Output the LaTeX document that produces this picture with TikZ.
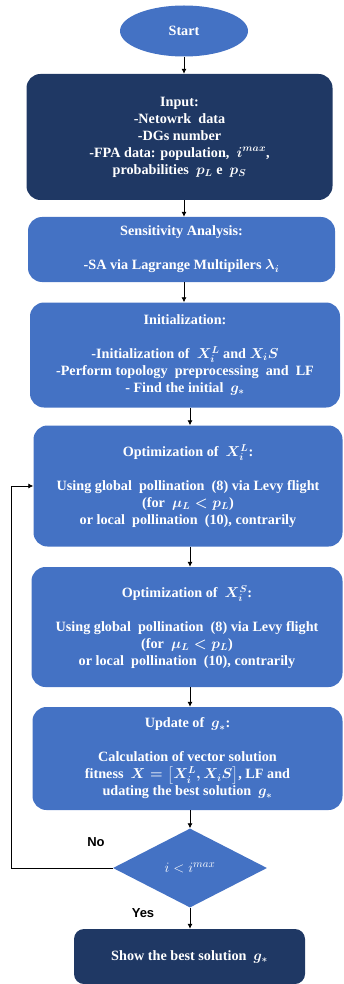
\documentclass[tikz,border=0pt]{standalone}
\usepackage{amsmath}
\usepackage{fontspec}
\setmainfont{Liberation Serif}
\newfontfamily\labelsans{Liberation Sans}
\usetikzlibrary{shapes.geometric,arrows.meta}
\definecolor{navy}{HTML}{1F3864}
\definecolor{midblue}{HTML}{4472C4}
\tikzset{
  box/.style={rectangle, rounded corners=14pt, inner sep=0pt, align=center, text=white,
    font=\fontsize{14.2}{17}\selectfont\bfseries\boldmath},
  darkbox/.style={box, fill=navy},
  lightbox/.style={box, fill=midblue},
  conn/.style={draw=black, line width=0.8pt, -{Latex[length=5pt,width=5pt]}},
  yn/.style={font=\labelsans\fontsize{13}{15}\selectfont\bfseries, text=black}
}
\begin{document}
\begin{tikzpicture}[x=1pt,y=-1pt]
\useasboundingbox (0,0) rectangle (344,984);
\node[ellipse, fill=midblue, minimum width=128pt, minimum height=51pt, inner sep=0pt,
  text=white, font=\fontsize{14.2}{17}\selectfont\bfseries] (start) at (184,31) {Start};
\node[darkbox, minimum width=306pt, minimum height=126pt] (input) at (179.5,137)
  {Input:\\-Netowrk\ \ data\\-DGs number\\-FPA data: population,\ \ $i^{max}$,\\probabilities\ \ $p_L$ e\ \ $p_S$};
\node[lightbox, minimum width=307pt, minimum height=65pt] (sens) at (181.5,249.5)
  {Sensitivity Analysis:\\[17pt]-SA via Lagrange Multipilers $\lambda_i$};
\node[lightbox, minimum width=310pt, minimum height=105pt] (init) at (185,355)
  {Initialization:\\[17pt]-Initialization of\ \ $X_i^L$ and $X_i S$\\-Perform topology\ \ preprocessing\ \ and\ \ LF\\- Find the initial\ \ $g_*$};
\node[lightbox, minimum width=309pt, minimum height=121pt] (optl) at (188,486)
  {Optimization of\ \ $X_i^L$:\\[17pt]Using global\ \ pollination\ \ (8) via Levy flight\\(for\ \ $\mu_L < p_L$)\\or local\ \ pollination\ \ (10), contrarily};
\node[lightbox, minimum width=311pt, minimum height=120pt] (opts) at (187,627)
  {Optimization of\ \ $X_i^S$:\\[17pt]Using global\ \ pollination\ \ (8) via Levy flight\\(for\ \ $\mu_L < p_L$)\\or local\ \ pollination\ \ (10), contrarily};
\node[lightbox, minimum width=310pt, minimum height=103pt] (upd) at (187.5,758.5)
  {Update of\ \ $g_*$:\\[17pt]Calculation of vector solution\\fitness\ \ $X=\left[X_i^L, X_i S\right]$,\ LF and\\udating the best solution\ \ $g_*$};
\node[diamond, fill=midblue, minimum width=154pt, minimum height=79pt, inner sep=0pt,
  text=white, font=\fontsize{15}{17}\selectfont] (dec) at (190,868) {$i < i^{max}$};
\node[darkbox, rounded corners=10pt, minimum width=231pt, minimum height=55pt] (show) at (189.5,956.5)
  {Show the best solution\ \ $g_*$};
\node[yn] (no) at (96,842) {No};
\node[yn] (yes) at (143,913) {Yes};
\coordinate (loopc) at (11,868);
\draw[conn] (start) -- (start |- input.north);
\draw[conn] (input.south -| start) -- (start |- sens.north);
\draw[conn] (sens.south -| start) -- (start |- init.north);
\draw[conn] (init.south -| dec) -- (dec |- optl.north);
\draw[conn] (optl.south -| dec) -- (dec |- opts.north);
\draw[conn] (opts.south -| dec) -- (dec |- upd.north);
\draw[conn] (upd.south -| dec) -- (dec.north);
\draw[conn] (dec.south) -- (dec |- show.north);
\draw[conn] (dec.west) -- (loopc) |- (optl.west);
\end{tikzpicture}
\end{document}
